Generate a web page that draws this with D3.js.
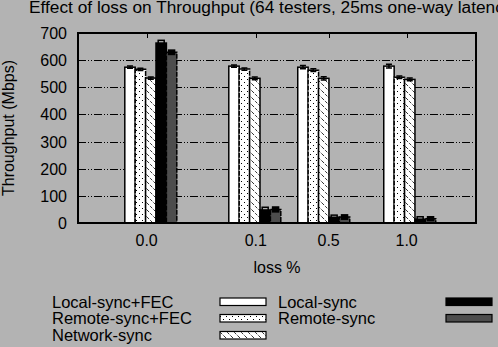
<!DOCTYPE html>
<html><head><meta charset="utf-8">
<script src="https://cdn.jsdelivr.net/npm/d3@7/dist/d3.min.js"></script>
<style>
html,body{margin:0;padding:0;background:#b3b3b3;overflow:hidden;}
svg{display:block;font-family:"Liberation Sans",Arial,sans-serif;}
</style></head>
<body>
<script>
// ---- data ----
const categories = ["0.0", "0.1", "0.5", "1.0"];
const seriesNames = ["Local-sync+FEC", "Remote-sync+FEC", "Network-sync", "Local-sync", "Remote-sync"];
const localSyncFEC = [574, 578, 574, 578];
const remoteSyncFEC = [566, 567, 563, 537];
const networkSync = [534, 533, 533, 529];
const localSync = [663, 48, 21, 14];
const remoteSync = [629, 50, 22, 16];
const localSyncFECErr = [4, 4, 6, 7];
const remoteSyncFECErr = [4, 4, 5, 5];
const networkSyncErr = [4, 5, 6, 5];
const localSyncErr = [10, 10, 8, 9];
const remoteSyncErr = [8, 9, 8, 7];
const yTicks = [0, 100, 200, 300, 400, 500, 600, 700];
const title = "Effect of loss on Throughput (64 testers, 25ms one-way latency)";
const xLabel = "loss %";
const yLabel = "Throughput (Mbps)";

const values = [localSyncFEC, remoteSyncFEC, networkSync, localSync, remoteSync];
const errs = [localSyncFECErr, remoteSyncFECErr, networkSyncErr, localSyncErr, remoteSyncErr];

// ---- layout (in bar-width units along x) ----
const clusterStart = [4.5, 14.5, 21.13, 29.4];
const tickPos = [6.6, 17.1, 24.1, 31.6];

const W = 498, H = 347;
const L = 78, R = 476, T = 33, B = 223;

const svg = d3.select("body").append("svg").attr("width", W).attr("height", H);
svg.append("rect").attr("width", W).attr("height", H).attr("fill", "#b3b3b3");

const defs = svg.append("defs");
const pDot = defs.append("pattern").attr("id", "dots").attr("patternUnits", "userSpaceOnUse")
  .attr("width", 6).attr("height", 6);
pDot.append("rect").attr("width", 6).attr("height", 6).attr("fill", "#fff");
pDot.append("rect").attr("x", 1).attr("y", 1).attr("width", 1).attr("height", 1).attr("fill", "#000");
pDot.append("rect").attr("x", 4).attr("y", 4).attr("width", 1).attr("height", 1).attr("fill", "#000");
const pHatch = defs.append("pattern").attr("id", "hatch").attr("patternUnits", "userSpaceOnUse")
  .attr("width", 7).attr("height", 7);
pHatch.append("rect").attr("width", 7).attr("height", 7).attr("fill", "#fff");
pHatch.append("path").attr("d", "M0,0L7,7").attr("stroke", "#000").attr("stroke-width", 0.8)
  .attr("stroke-dasharray", "3,1.5");

const fills = ["#ffffff", "url(#dots)", "url(#hatch)", "#000000", "#4d4d4d"];

const x = d3.scaleLinear().domain([0, 38.27]).range([L, R]);
const y = d3.scaleLinear().domain([0, 700]).range([B, T]);
const bw = x(1) - x(0);

// grid
svg.append("g").selectAll("line").data(yTicks.filter(d => d > 0 && d < 700)).join("line")
  .attr("x1", L).attr("x2", R)
  .attr("y1", d => Math.round(y(d)) + 0.5).attr("y2", d => Math.round(y(d)) + 0.5)
  .attr("stroke", "#000").attr("stroke-width", 1.2)
  .attr("stroke-dasharray", "8,2,1,2,1,2");

// x ticks (top and bottom, inward)
tickPos.forEach(t => {
  const xx = Math.round(x(t)) + 0.5;
  svg.append("line").attr("x1", xx).attr("x2", xx).attr("y1", T).attr("y2", T + 5).attr("stroke", "#000");
  svg.append("line").attr("x1", xx).attr("x2", xx).attr("y1", B).attr("y2", B - 5).attr("stroke", "#000");
});

// bars
const gBars = svg.append("g");
categories.forEach((c, ci) => {
  values.forEach((arr, si) => {
    const x0 = x(clusterStart[ci] + si);
    gBars.append("rect")
      .attr("x", x0).attr("y", y(arr[ci]))
      .attr("width", bw).attr("height", y(0) - y(arr[ci]))
      .attr("fill", fills[si]).attr("stroke", "#000").attr("stroke-width", 1.5)
      .attr("stroke-dasharray", si === 1 || si === 4 ? "5,1" : null);
  });
});
// error bars
const gErr = svg.append("g");
categories.forEach((c, ci) => {
  values.forEach((arr, si) => {
    const cx = x(clusterStart[ci] + si + 0.5);
    const v = arr[ci], e = errs[si][ci];
    if (si < 3) {
      gErr.append("path")
        .attr("d", `M${cx},${y(v - e)}V${y(v + e)}M${cx - 3},${y(v - e)}h6M${cx - 3},${y(v + e)}h6`)
        .attr("stroke", "#000").attr("stroke-width", 1.5).attr("fill", "none");
    } else {
      gErr.append("rect")
        .attr("x", cx - 3).attr("y", y(v + e)).attr("width", 6).attr("height", y(v - e) - y(v + e))
        .attr("fill", si === 3 ? "none" : "#000").attr("stroke", "#000").attr("stroke-width", 1.5);
    }
  });
});

// frame
svg.append("rect").attr("x", L).attr("y", T).attr("width", R - L).attr("height", B - T)
  .attr("fill", "none").attr("stroke", "#000").attr("stroke-width", 2);

// y tick labels
svg.append("g").selectAll("text").data(yTicks).join("text")
  .attr("x", 67).attr("y", d => y(d) + 6)
  .attr("text-anchor", "end").attr("font-size", 16).text(d => d);

// x tick labels
svg.append("g").selectAll("text").data(categories).join("text")
  .attr("x", (d, i) => x(tickPos[i])).attr("y", 246)
  .attr("text-anchor", "middle").attr("font-size", 16).text(d => d);

// axis titles
svg.append("text").attr("x", (L + R) / 2).attr("y", 273).attr("text-anchor", "middle")
  .attr("font-size", 16).text(xLabel);
svg.append("text").attr("transform", `translate(14,${(T + B) / 2}) rotate(-90)`)
  .attr("text-anchor", "middle").attr("font-size", 16).text(yLabel);
svg.append("text").attr("x", 29).attr("y", 13).attr("font-size", 17.3).text(title);

// legend
const legendPos = [
  {tx: 52, ty: 307.5, sx: 220, sy: 298},
  {tx: 52, ty: 324, sx: 220, sy: 314.5},
  {tx: 52, ty: 341, sx: 220, sy: 331.5},
  {tx: 278, ty: 307.5, sx: 446, sy: 298},
  {tx: 278, ty: 324, sx: 446, sy: 314.5}
];
seriesNames.forEach((n, i) => {
  const p = legendPos[i];
  svg.append("text").attr("x", p.tx).attr("y", p.ty).attr("font-size", 16.5).text(n);
  svg.append("rect").attr("x", p.sx).attr("y", p.sy).attr("width", 46).attr("height", 7.5)
    .attr("fill", fills[i]).attr("stroke", "#000").attr("stroke-width", 1.2);
});
</script>
</body></html>
